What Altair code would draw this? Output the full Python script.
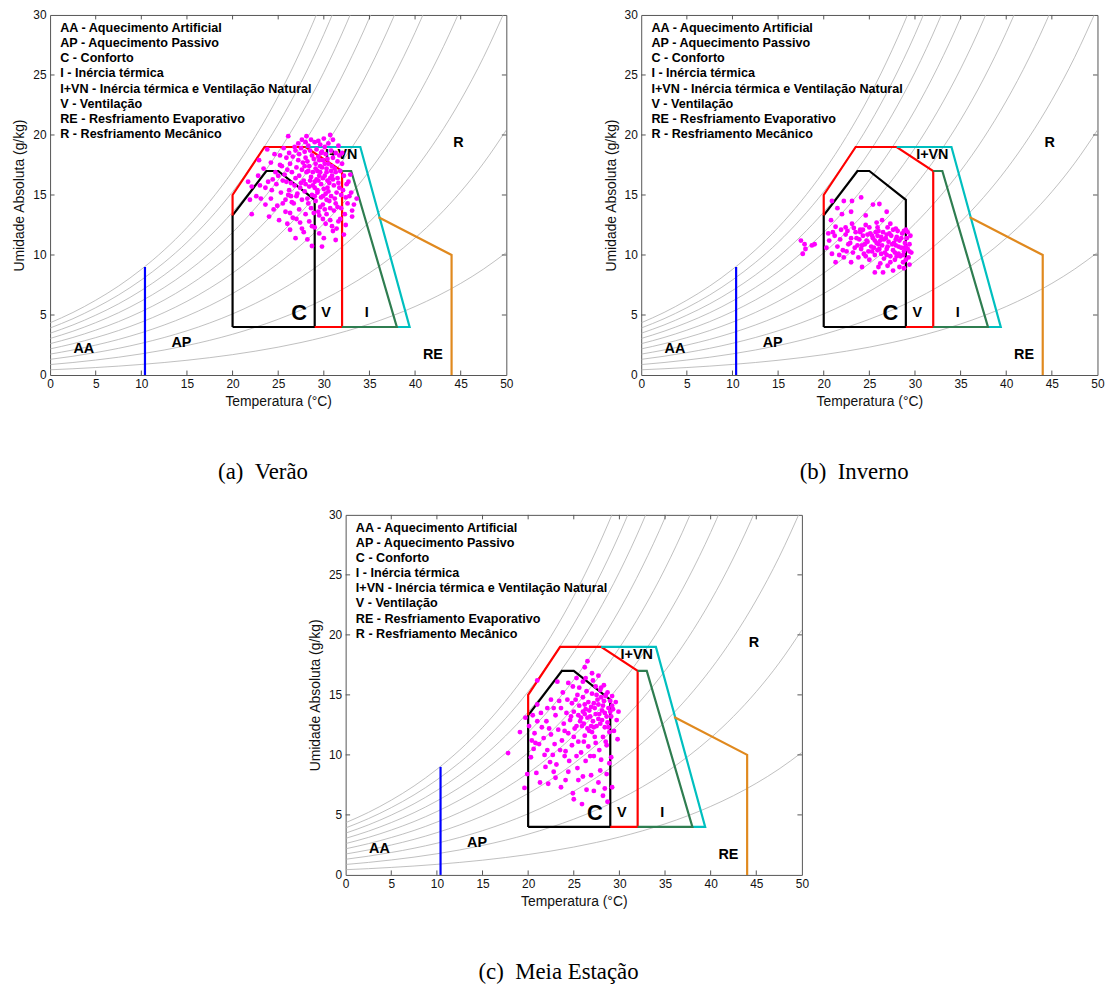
import altair as alt
import pandas as pd

FONT = "Liberation Sans"
SERIF = "Liberation Serif"
W, H = 460, 363

# ---------------- reference curves (relative humidity 10%..100%) ----------------
curve_temps = [0, 2.5, 5, 7.5, 10, 12.5, 15, 17.5, 20, 22.5, 25, 27.5, 30,
               32.5, 35, 37.5, 40, 42.5, 45, 47.5, 50]
sat_humidity = [4.35, 5.21, 6.23, 7.41, 8.80, 10.41, 12.28, 14.46, 16.97, 19.88,
                23.22, 27.09, 31.53, 36.65, 42.52, 49.29, 57.07, 66.02, 76.34,
                88.25, 102.05]
rh_levels = [0.1, 0.2, 0.3, 0.4, 0.5, 0.6, 0.7, 0.8, 0.9, 1.0]

# ---------------- bioclimatic zones ----------------
comfort_t = [20, 20, 23.7, 25, 29, 29, 20]
comfort_h = [4, 13.3, 17, 17, 14.6, 4, 4]
vent_t = [20, 20, 23.5, 28, 32, 32, 29]
vent_h = [13.3, 15, 19, 19, 17, 4, 4]
ivn_t = [28, 34, 39.4, 38]
ivn_h = [19, 19, 4, 4]
inert_t = [32, 33, 38, 32]
inert_h = [17, 17, 4, 4]
evap_t = [36, 44, 44]
evap_h = [13.15, 10, 0]
ap_t = [10.4, 10.4]
ap_h = [0, 9]

zone_names = ["C", "V", "I+VN", "I", "RE", "AP"]
zone_colors = ["#000000", "#ff0000", "#00bfbf", "#2e7d50", "#e0891e", "#0000ff"]

# ---------------- zone labels ----------------
label_text = ["AA", "AP", "C", "V", "I", "I+VN", "R", "RE"]
label_t = [3.7, 14.4, 27.3, 30.25, 34.7, 31.9, 44.75, 41.95]
label_h = [2.15, 2.65, 5.15, 5.15, 5.15, 18.3, 19.3, 1.65]
label_size = [14.5, 14.5, 22, 14.5, 14.5, 14.5, 14.5, 14.5]

legend_lines = [
    "AA - Aquecimento Artificial",
    "AP - Aquecimento Passivo",
    "C - Conforto",
    "I - Inércia térmica",
    "I+VN - Inércia térmica e Ventilação Natural",
    "V - Ventilação",
    "RE - Resfriamento Evaporativo",
    "R - Resfriamento Mecânico",
]

x_ticks = [5, 10, 15, 20, 25, 30, 35, 40, 45]
y_ticks = [5, 10, 15, 20, 25]

# ---------------- measured points (temperature, absolute humidity) ----------------
summer_points = [
    (26.1, 19.9), (28.1, 19.9), (30.7, 20.0), (29.0, 19.4), (28.6, 19.6), (29.6, 19.2),
    (27.2, 19.3), (23.8, 18.8), (24.6, 18.4), (22.9, 17.9), (21.7, 16.1), (22.1, 15.7),
    (22.1, 13.4), (24.0, 13.2), (23.1, 14.7), (24.2, 14.7), (23.6, 15.6), (22.8, 16.6),
    (25.1, 12.9), (26.3, 12.1), (26.9, 11.4), (28.2, 11.3), (28.7, 10.75), (29.8, 10.7),
    (31.3, 11.25), (32.2, 11.7), (33.1, 13.2), (33.1, 13.7), (33.6, 14.7), (32.7, 16.1),
    (33.0, 15.2), (32.4, 12.5), (31.0, 12.0), (29.5, 11.8), (27.6, 12.2), (25.8, 13.6),
    (24.9, 14.1), (24.4, 16.3), (25.2, 17.5), (26.0, 12.6), (30.2, 12.6), (31.8, 13.0),
    (32.6, 14.3), (29.0, 12.3), (27.0, 13.0), (26.5, 14.4), (23.4, 17.2), (25.6, 18.9),
    (31.6, 19.1), (32.0, 18.5),
    (26.8, 19.0), (27.5, 18.9), (28.3, 19.1), (29.2, 18.8), (30.1, 19.0), (30.8, 18.7),
    (27.9, 18.6), (26.2, 18.5),
    (25.9, 18.1), (26.6, 18.2), (27.3, 18.4), (28.0, 18.1), (28.7, 18.3), (29.4, 18.2),
    (30.2, 18.4), (31.0, 18.1), (31.5, 17.8), (29.9, 17.9),
    (25.4, 17.4), (26.3, 17.6), (27.0, 17.3), (27.7, 17.7), (28.4, 17.4), (29.1, 17.6),
    (29.8, 17.3), (30.5, 17.6), (31.2, 17.2), (31.8, 17.0), (28.8, 16.9), (30.3, 16.9),
    (25.7, 16.7), (26.5, 16.9), (27.3, 16.6), (28.1, 16.9), (29.5, 16.6), (30.9, 16.6),
    (31.5, 16.4), (32.2, 16.6), (27.8, 16.2),
    (24.8, 15.9), (25.9, 16.1), (26.8, 15.8), (27.5, 16.0), (28.4, 15.7), (29.0, 16.1),
    (29.7, 15.9), (30.4, 16.2), (31.1, 15.8), (31.7, 15.6), (30.0, 15.5),
    (25.3, 15.2), (26.2, 15.4), (27.1, 15.1), (27.9, 15.3), (28.7, 15.0), (29.3, 15.4),
    (30.2, 15.1), (30.8, 14.9), (31.4, 15.2), (32.1, 15.4), (29.7, 14.8),
    (25.8, 14.6), (26.7, 14.3), (27.6, 14.6), (28.3, 14.3), (29.1, 14.5), (29.9, 14.2),
    (30.6, 14.5), (31.3, 14.3), (32.4, 14.8), (28.6, 13.9),
    (26.3, 13.5), (27.3, 13.8), (28.0, 13.4), (29.4, 13.6), (30.3, 13.4), (31.1, 13.7),
    (31.6, 12.8), (30.7, 12.9), (29.9, 13.0), (28.4, 12.8), (27.4, 12.7),
    (29.3, 17.0), (29.9, 16.4), (30.6, 16.0), (29.0, 15.6), (30.1, 17.6), (29.5, 17.9),
    (30.8, 17.0), (28.9, 18.0), (29.6, 16.9), (30.4, 15.6),
    (27.2, 17.9), (27.6, 17.1), (28.2, 17.8), (28.6, 16.5), (29.2, 16.3), (29.8, 18.6),
    (30.4, 18.0), (30.9, 17.4), (31.3, 16.9), (31.7, 18.3), (28.0, 15.9), (28.5, 16.2),
    (29.3, 15.2), (29.9, 14.9), (30.5, 15.3), (31.0, 16.3), (31.6, 16.0), (31.9, 15.0),
    (30.7, 13.9), (31.5, 14.0), (27.4, 15.6), (26.9, 16.4), (26.4, 16.0), (27.0, 14.9),
    (28.2, 14.7), (28.9, 13.5), (29.6, 14.0), (30.1, 13.8), (30.9, 12.4), (31.9, 13.9),
    (26.0, 17.1), (25.5, 16.2), (24.7, 16.9), (24.3, 15.4), (23.9, 16.1), (26.9, 18.7),
    (28.5, 18.7), (29.7, 18.5), (30.5, 19.3), (31.3, 18.5), (29.4, 19.5), (28.0, 19.4),
    (27.6, 19.6), (30.0, 19.7), (31.0, 19.6), (25.2, 18.3), (24.2, 17.7), (25.0, 16.6),
    (26.1, 15.0), (26.6, 13.1), (32.0, 17.6), (32.5, 15.9), (32.8, 14.9), (31.2, 14.7),
    (30.3, 14.6), (29.5, 13.3), (28.7, 12.4), (30.0, 11.4), (31.4, 12.2), (27.8, 11.9),
    (29.1, 17.2), (29.6, 17.4), (30.1, 16.6), (30.7, 16.4), (29.4, 16.2), (28.8, 15.8),
    (29.0, 14.9), (30.3, 17.2), (28.3, 17.0), (27.9, 17.4), (26.4, 14.9), (25.5, 14.3),
    (24.5, 13.8), (23.6, 14.2), (22.6, 14.9), (23.0, 15.8), (21.9, 14.6), (32.9, 16.7),
    (33.3, 14.2), (32.3, 13.4),
]

winter_points = [
    (17.5, 11.2), (18.0, 10.5), (17.7, 10.1), (18.7, 10.8), (19.0, 10.9), (17.9, 10.9),
    (20.9, 14.5), (22.2, 14.5), (23.1, 14.5), (24.1, 14.8), (22.0, 13.4), (23.0, 13.6),
    (25.4, 14.2), (26.1, 14.25), (26.9, 13.6), (26.4, 12.9), (20.8, 12.9), (21.3, 12.35),
    (22.4, 12.3), (23.3, 12.25), (24.3, 12.1), (21.5, 13.9), (24.6, 13.3), (25.8, 12.7),
    (27.3, 12.6), (27.9, 12.2),
    (21.3, 9.4), (24.2, 9.0), (25.6, 8.55), (26.5, 8.55), (27.6, 8.7), (28.3, 9.0),
    (26.2, 9.3), (23.0, 9.4), (28.8, 8.9), (27.0, 9.1), (25.0, 9.6), (22.2, 9.8),
    (20.3, 10.6), (20.6, 11.2), (20.9, 10.1), (21.2, 11.6), (21.5, 10.7), (21.8, 11.3),
    (22.1, 10.4), (22.4, 11.7), (22.7, 10.9), (23.0, 11.4), (23.2, 10.2), (23.5, 11.9),
    (23.7, 10.8), (23.9, 11.3), (24.1, 10.5), (24.3, 11.6), (24.5, 10.9), (24.7, 11.2),
    (24.9, 10.3), (25.1, 11.8), (25.2, 10.7), (25.4, 11.4), (25.6, 10.0), (25.8, 11.0),
    (25.9, 11.6), (26.1, 10.5), (26.2, 11.2), (26.4, 10.8), (26.5, 11.9), (26.7, 10.2),
    (26.8, 11.4), (27.0, 10.7), (27.1, 11.1), (27.3, 9.9), (27.4, 11.6), (27.6, 10.4),
    (27.7, 11.0), (27.9, 10.8), (28.0, 11.5), (28.2, 10.1), (28.3, 11.2), (28.5, 10.6),
    (28.6, 11.8), (28.8, 10.3), (28.9, 11.0), (29.1, 11.4), (29.2, 10.5), (29.4, 10.9),
    (29.5, 11.6), (29.3, 9.8),
    (24.0, 12.1), (25.0, 12.3), (26.0, 12.0), (27.0, 12.3), (28.1, 12.0), (29.0, 12.1),
    (24.6, 9.9), (25.3, 10.3), (26.6, 9.7), (27.8, 9.6), (28.7, 9.4), (23.4, 10.6),
    (22.6, 12.0), (21.0, 11.9), (26.9, 10.0), (25.7, 11.9), (28.4, 9.9), (29.0, 9.6),
    (29.6, 10.2), (24.8, 11.7), (26.3, 11.5),
    (22.9, 11.0), (23.6, 11.4), (24.2, 10.8), (24.8, 11.1), (25.3, 11.6), (25.5, 10.6),
    (26.0, 10.9), (26.6, 11.3), (26.9, 10.5), (27.2, 11.8), (27.5, 10.9), (27.9, 11.3),
    (28.2, 10.7), (28.5, 11.4), (28.7, 10.0), (29.0, 10.7), (29.2, 11.9), (29.4, 10.3),
    (26.3, 10.1), (25.9, 10.4), (24.4, 10.1), (23.8, 9.8), (22.5, 10.3), (21.7, 10.0),
    (20.5, 11.8), (21.9, 12.1), (23.1, 12.6), (24.6, 12.5), (25.9, 12.3), (27.6, 12.1),
    (28.8, 12.0), (26.0, 9.0), (27.3, 9.4), (28.0, 9.9), (29.4, 9.2), (24.0, 11.9),
    (25.6, 11.2), (26.9, 11.7), (27.8, 10.2), (28.9, 10.6),
]

midseason_points = [
    (26.5, 17.8), (26.2, 17.3), (27.0, 16.8), (27.7, 16.6), (25.3, 16.4), (26.0, 16.1),
    (24.4, 16.0), (23.2, 16.1), (21.0, 16.2), (28.5, 15.0), (29.2, 14.9), (29.6, 14.4),
    (29.9, 13.6), (29.7, 12.9), (29.8, 11.3), (29.1, 9.8),
    (17.8, 10.15), (19.1, 11.9), (19.7, 13.1), (19.6, 7.25), (19.9, 8.4), (20.3, 9.8),
    (20.1, 12.4), (20.5, 13.3), (20.8, 11.0), (21.0, 14.2),
    (25.9, 5.9), (25.0, 6.3), (28.7, 6.1), (27.7, 7.7), (23.6, 7.3), (22.2, 7.6),
    (24.1, 7.9), (26.4, 7.1), (28.2, 6.6), (24.9, 6.8), (21.3, 7.7), (26.9, 8.3),
    (27.9, 8.7), (28.4, 7.2), (22.8, 8.6), (25.4, 8.9), (23.1, 9.2), (21.9, 9.0),
    (26.3, 9.5), (28.9, 9.3), (24.5, 9.5), (27.2, 9.9),
    (20.6, 10.5), (21.2, 10.9), (21.7, 11.4), (22.1, 10.4), (22.5, 11.7), (22.9, 10.9),
    (23.3, 12.1), (23.7, 11.2), (24.1, 10.3), (24.4, 11.8), (24.8, 10.8), (25.1, 12.2),
    (25.5, 11.1), (25.8, 10.2), (26.2, 11.6), (26.6, 10.7), (27.0, 11.9), (27.4, 11.0),
    (27.8, 10.4), (28.2, 11.5), (28.6, 10.8), (28.9, 11.9), (21.5, 12.3), (22.0, 12.8),
    (23.9, 12.6), (26.9, 12.4), (28.4, 12.3), (20.7, 11.8), (24.0, 9.9), (25.3, 9.9),
    (22.7, 10.0),
    (24.6, 12.9), (25.0, 13.6), (25.3, 12.4), (25.6, 14.1), (25.8, 13.1), (26.0, 14.8),
    (26.1, 12.6), (26.3, 13.8), (26.5, 12.2), (26.6, 14.4), (26.8, 13.2), (27.0, 15.1),
    (27.1, 12.8), (27.3, 13.9), (27.5, 12.4), (27.6, 14.6), (27.8, 13.4), (27.9, 15.4),
    (28.1, 12.9), (28.2, 14.1), (28.4, 13.5), (28.5, 14.9), (28.7, 12.7), (28.8, 13.9),
    (29.0, 14.5), (29.1, 13.2), (27.2, 14.3), (26.4, 15.3), (25.4, 15.0), (24.8, 14.3),
    (24.2, 13.5), (23.6, 13.9), (23.0, 13.3), (22.5, 14.6), (23.8, 15.2), (24.9, 15.7),
    (27.4, 15.7), (28.3, 15.8), (26.2, 13.4), (27.7, 13.0), (28.0, 14.8), (26.7, 13.7),
    (25.7, 12.8), (29.3, 13.8), (22.1, 13.9), (21.4, 13.5),
    (24.7, 13.2), (25.2, 14.6), (25.5, 13.3), (25.9, 12.4), (26.2, 14.2), (26.5, 13.1),
    (26.9, 14.0), (27.2, 12.3), (27.4, 13.4), (27.7, 14.2), (27.9, 12.6), (28.1, 13.7),
    (28.3, 14.5), (28.6, 13.2), (28.8, 12.3), (29.0, 13.6), (29.2, 14.1), (26.0, 13.6),
    (26.7, 12.0), (27.5, 15.0), (28.0, 15.6), (28.7, 15.2), (26.3, 16.4), (27.1, 16.2),
    (25.6, 15.6), (24.3, 14.6), (23.4, 14.5), (22.8, 13.9), (24.0, 12.0), (25.0, 11.5),
    (26.1, 11.1), (27.3, 11.5), (28.5, 11.1), (29.4, 12.0), (22.3, 12.2), (21.0, 12.8),
    (20.4, 11.2), (21.8, 10.0), (23.5, 10.4), (26.8, 9.9), (28.0, 9.6), (25.5, 7.9),
    (27.2, 7.0), (23.0, 8.1), (20.9, 8.5), (28.6, 8.4), (24.4, 8.6), (26.0, 8.2),
    (29.2, 7.3), (22.4, 9.4),
]

# ---------------- tables built from the arrays ----------------
curves_df = pd.DataFrame(
    [{"T": t, "H": rh * s, "rh": rh} for rh in rh_levels for t, s in zip(curve_temps, sat_humidity)]
)

zone_rows = []
for name, ts, hs in [("C", comfort_t, comfort_h), ("V", vent_t, vent_h),
                     ("I+VN", ivn_t, ivn_h), ("I", inert_t, inert_h),
                     ("RE", evap_t, evap_h), ("AP", ap_t, ap_h)]:
    for i, (t, h) in enumerate(zip(ts, hs)):
        zone_rows.append({"T": t, "H": h, "zone": name, "idx": i})
zones_df = pd.DataFrame(zone_rows)

labels_df = pd.DataFrame({"T": label_t, "H": label_h, "text": label_text, "fs": label_size})

x_scale = alt.Scale(domain=[0, 50], nice=False, zero=False)
y_scale = alt.Scale(domain=[0, 30], nice=False, zero=False)

x_axis = alt.Axis(values=list(range(0, 51, 5)), grid=False, ticks=False, tickSize=0,
                  domain=False, labelPadding=4, labelFont=FONT, labelFontSize=12,
                  labelColor="#111", labelFlush=False, title="Temperatura (°C)",
                  titleFont=FONT, titleFontSize=14, titleFontWeight="normal",
                  titleColor="#111", titlePadding=5)
y_axis = alt.Axis(values=list(range(0, 31, 5)), grid=False, ticks=False, tickSize=0,
                  domain=False, labelPadding=4, labelFont=FONT, labelFontSize=12,
                  labelColor="#111", labelFlush=False, title="Umidade Absoluta (g/kg)",
                  titleFont=FONT, titleFontSize=14, titleFontWeight="normal",
                  titleColor="#111", titlePadding=6)


def xe():
    return alt.X("T:Q", scale=x_scale, axis=x_axis)


def ye():
    return alt.Y("H:Q", scale=y_scale, axis=y_axis)


def panel(points, caption):
    pts = pd.DataFrame(points, columns=["T", "H"])
    curves = alt.Chart(curves_df).mark_line(
        color="#b0b0b0", strokeWidth=0.8, clip=True, interpolate="monotone"
    ).encode(x=xe(), y=ye(), detail="rh:N")
    zones = alt.Chart(zones_df).mark_line(strokeWidth=2.2).encode(
        x=xe(), y=ye(), order="idx:Q",
        color=alt.Color("zone:N", scale=alt.Scale(domain=zone_names, range=zone_colors), legend=None),
    )
    xt = pd.DataFrame({"T": x_ticks})
    yt = pd.DataFrame({"H": y_ticks})
    tick_b = alt.Chart(xt).mark_rule(color="#555", strokeWidth=1).encode(
        x=xe(), y=alt.value(H), y2=alt.value(H - 4.5))
    tick_t = alt.Chart(xt).mark_rule(color="#555", strokeWidth=1).encode(
        x=xe(), y=alt.value(0), y2=alt.value(4.5))
    tick_l = alt.Chart(yt).mark_rule(color="#555", strokeWidth=1).encode(
        y=ye(), x=alt.value(0), x2=alt.value(4.5))
    tick_r = alt.Chart(yt).mark_rule(color="#555", strokeWidth=1).encode(
        y=ye(), x=alt.value(W), x2=alt.value(W - 4.5))
    labels = alt.Chart(labels_df).mark_text(
        font=FONT, fontWeight="bold", color="black", align="center", baseline="middle"
    ).encode(x=xe(), y=ye(), text="text:N", size=alt.Size("fs:Q", scale=None, legend=None))
    legend = alt.Chart(pd.DataFrame({"k": [0]})).mark_text(
        text=legend_lines, align="left", baseline="alphabetic", font=FONT,
        fontSize=12.7, fontWeight="bold", color="black", lineHeight=15.2
    ).encode(x=alt.value(10.3), y=alt.value(17.4))
    dots = alt.Chart(pts).mark_circle(size=24, color="#ff00ff", opacity=1).encode(x=xe(), y=ye())
    return alt.layer(curves, zones, tick_b, tick_t, tick_l, tick_r, labels, legend, dots).properties(
        width=W, height=H,
        title=alt.TitleParams(text=caption, orient="bottom", anchor="middle", frame="bounds",
                              font=SERIF, fontSize=23, fontWeight="normal", color="black",
                              offset=53),
    )


pa = panel(summer_points, "(a)\u00a0\u00a0Verão")
pb = panel(winter_points, "(b)\u00a0\u00a0Inverno")
pc = panel(midseason_points, "(c)\u00a0\u00a0Meia Estação")

top = alt.hconcat(pa, pb, spacing=90)
chart = alt.vconcat(top, pc, spacing=23, center=True).configure_view(
    stroke="#555", strokeWidth=1
).properties(padding={"left": 4, "top": -4, "right": 0, "bottom": 0})

chart.save("out.html", embed_options={"renderer": "svg", "actions": False})
